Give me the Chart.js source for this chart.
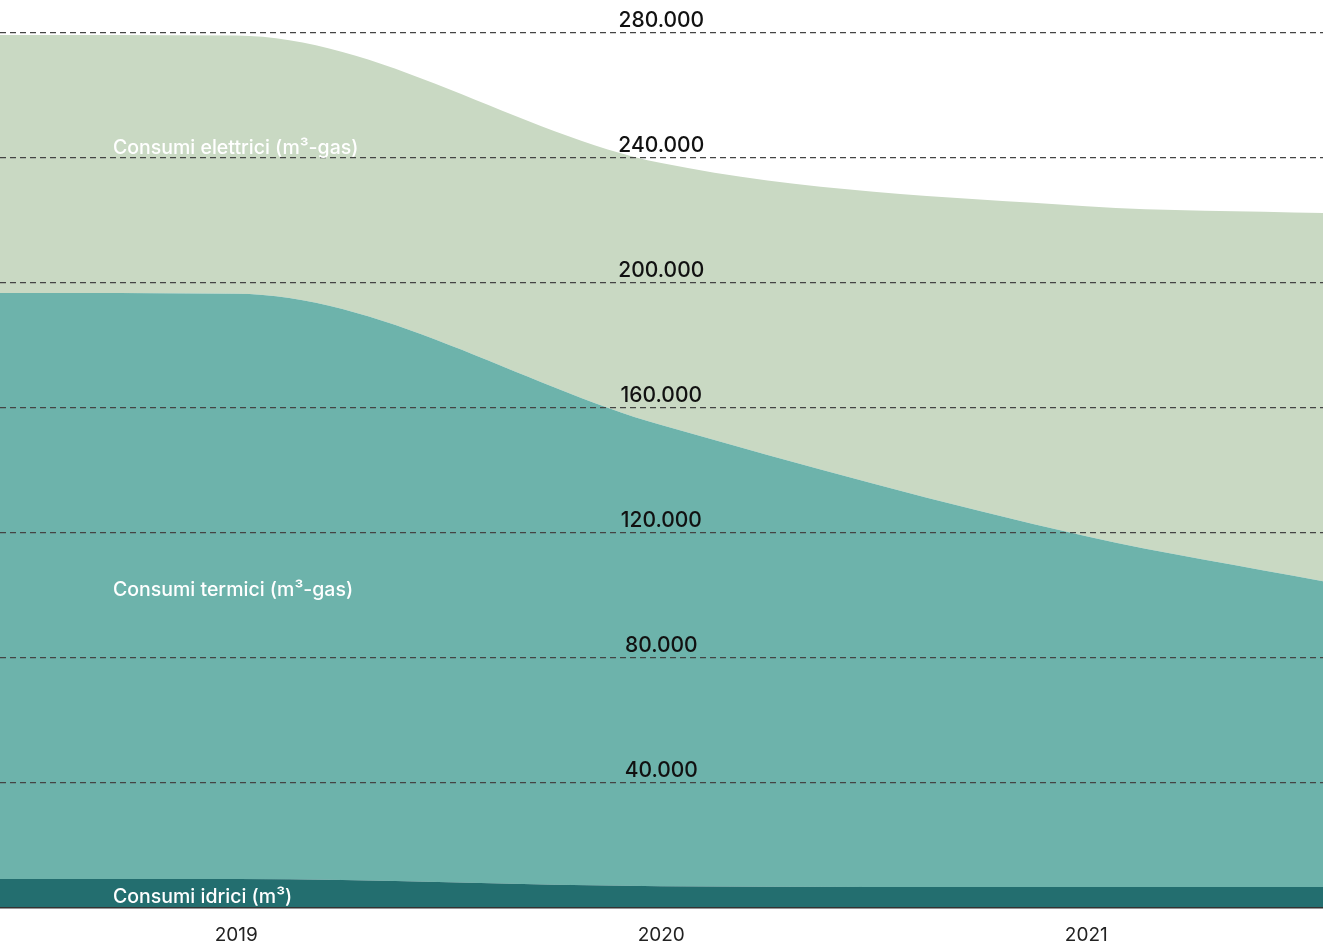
<!DOCTYPE html>
<html>
<head>
<meta charset="utf-8">
<script src="https://cdn.jsdelivr.net/npm/chart.js@4.4.1/dist/chart.umd.min.js"></script>
<style>
  html, body { margin: 0; padding: 0; background: #fff; }
  #wrap { width: 1323px; height: 944px; }
</style>
</head>
<body>
<div id="wrap"><canvas id="chart"></canvas></div>
<script>
// x positions: two edge points (chart edges) plus the three years
const xValues = [2018.444, 2019, 2020, 2021, 2021.557];
const yearTicks = [2019, 2020, 2021];

// series values (stacked from bottom)
const idrici = [9300, 9300, 7000, 6700, 6700];
const termici = [187500, 187300, 147600, 112300, 97900];
const elettrici = [82600, 82600, 83800, 105600, 117800];

const yTicks = [40000, 80000, 120000, 160000, 200000, 240000, 280000];

const seriesNames = ['Consumi idrici (m³)', 'Consumi termici (m³-gas)', 'Consumi elettrici (m³-gas)'];
const seriesColors = ['#236e6f', '#6db3ab', '#c9d9c3'];
// value on the y scale where each series name sits
const nameValues = [3600, 101800, 243200];

Chart.defaults.font.family = 'Inter, "Noto Sans", sans-serif';

function toPoints(arr) {
  return arr.map((v, i) => ({ x: xValues[i], y: v }));
}

const labelPlugin = {
  id: 'labels',
  afterDraw(chart) {
    const ctx = chart.ctx;
    const xs = chart.scales.x;
    const ys = chart.scales.y;
    ctx.save();
    // value labels centred over the gridlines
    ctx.fillStyle = '#111';
    ctx.font = '500 21px Inter, sans-serif';
    ctx.textAlign = 'center';
    ctx.textBaseline = 'middle';
    const cx = xs.getPixelForValue(2020);
    yTicks.forEach(v => {
      ctx.fillText(v.toLocaleString('it-IT'), cx, ys.getPixelForValue(v) - 12);
    });
    // series names
    ctx.fillStyle = '#fff';
    ctx.font = '500 19.5px Inter, sans-serif';
    ctx.textAlign = 'left';
    seriesNames.forEach((name, i) => {
      ctx.fillText(name, chart.chartArea.left + 113, ys.getPixelForValue(nameValues[i]));
    });
    ctx.restore();
  }
};

new Chart(document.getElementById('chart'), {
  type: 'line',
  data: {
    datasets: [
      { label: seriesNames[0], data: toPoints(idrici), backgroundColor: seriesColors[0], fill: 'origin' },
      { label: seriesNames[1], data: toPoints(termici), backgroundColor: seriesColors[1], fill: '-1' },
      { label: seriesNames[2], data: toPoints(elettrici), backgroundColor: seriesColors[2], fill: '-1' }
    ]
  },
  options: {
    responsive: true,
    maintainAspectRatio: false,
    animation: false,
    layout: { padding: { top: 33, left: 0, right: 0, bottom: 0 } },
    elements: {
      line: { borderWidth: 0, cubicInterpolationMode: 'monotone' },
      point: { radius: 0 }
    },
    plugins: { legend: { display: false }, tooltip: { enabled: false } },
    scales: {
      x: {
        type: 'linear',
        min: xValues[0],
        max: xValues[xValues.length - 1],
        afterBuildTicks: s => { s.ticks = yearTicks.map(v => ({ value: v })); },
        afterFit: s => { s.height = 36; },
        grid: { display: false, drawTicks: false },
        border: { display: true, color: '#333', width: 1.5, z: 2 },
        ticks: {
          color: '#222',
          padding: 16,
          font: { size: 19 },
          callback: v => String(v)
        }
      },
      y: {
        stacked: true,
        min: 0,
        max: 280000,
        afterBuildTicks: s => { s.ticks = yTicks.map(v => ({ value: v })); },
        afterFit: s => { s.width = 0; },
        grid: { color: '#444', lineWidth: 1.2, drawTicks: false, z: 1 },
        border: { display: false, dash: [6, 4] },
        ticks: { display: false }
      }
    }
  },
  plugins: [labelPlugin]
});
</script>
</body>
</html>
